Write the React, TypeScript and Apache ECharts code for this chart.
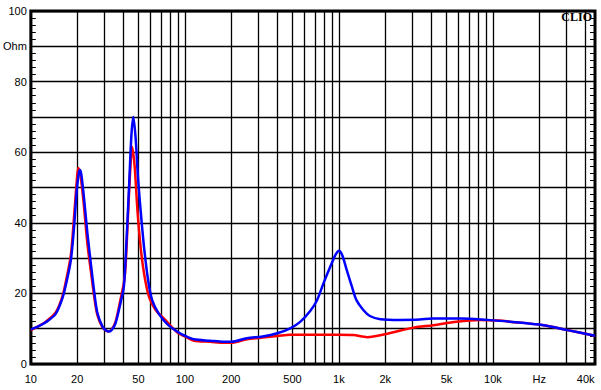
import React, { useEffect, useRef } from "react";
import * as echarts from "echarts";

const xTickValues = [
  10, 20, 30, 40, 50, 60, 70, 80, 90,
  100, 200, 300, 400, 500, 600, 700, 800, 900,
  1000, 2000, 3000, 4000, 5000, 6000, 7000, 8000, 9000,
  10000, 20000, 30000, 40000,
];
const xLabelValues = [10, 20, 50, 100, 200, 500, 1000, 2000, 5000, 10000, 20000, 40000];

const blueFreq = [
  10, 11, 12.5, 14.5, 16, 17, 18.2, 19.1, 19.8, 20.4, 20.8, 21.3, 22.2, 23.3, 24.5, 25.7, 27, 29.2, 31, 32.2,
  33.5, 35.5, 38.3, 40.2, 41.8, 43.5, 45, 46.3, 47.9, 49.6, 51.6, 54.3, 57.7, 61.4, 67.8, 76.8, 89, 100,
  114.5, 146, 179, 200, 253, 320, 398, 483, 563, 651, 720, 795, 880, 950, 1000, 1050, 1125, 1215, 1300,
  1440, 1590, 1860, 2500, 3350, 4000, 6250, 9150, 12900, 21400, 30500, 46000,
];
const blueOhm = [
  9.8, 10.5, 11.8, 14.2, 18.5, 23, 29.5, 39, 48.5, 53.5, 55, 53.5, 46.5, 37, 28.6, 21, 14.6, 10.6, 9.4, 9.2,
  9.6, 11.6, 17.5, 22, 35, 51, 65, 70, 64, 53, 43.6, 33.2, 23.8, 18, 14.2, 11.3, 9.2, 8,
  7, 6.6, 6.3, 6.3, 7.3, 7.8, 8.7, 10.1, 12.0, 15, 18, 22.9, 27.6, 30.9, 32.1, 30.9, 26.6, 21.9, 18.1,
  15.3, 13.6, 12.7, 12.5, 12.6, 12.9, 12.9, 12.5, 12.0, 11, 9.6, 8.0,
];

const redFreq = [
  10, 11, 12.5, 14.5, 16, 17, 18.2, 19.1, 19.8, 20.3, 20.8, 21.5, 22.2, 23.3, 24.5, 25.7, 27, 29.2, 31, 32.2,
  33.5, 35.5, 38.3, 40.2, 41.2, 42.7, 44.2, 45.5, 47.2, 49.2, 51.6, 54.3, 58.5, 64.6, 74.6, 89, 100,
  114.5, 146, 179, 200, 253, 320, 398, 483, 700, 1000, 1240, 1530, 2030, 3050, 4100, 5800, 8230, 11000,
  12900, 21400, 30500, 46000,
];
const redOhm = [
  9.6, 10.5, 12, 14.6, 19, 24, 31, 42, 51, 55.5, 54.5, 50, 44, 34, 26.5, 19.5, 14, 10.4, 9.4, 9.3,
  9.8, 12, 18.5, 23, 27.6, 41.7, 55, 61.5, 56, 43.6, 33.2, 25.7, 19, 15.3, 12.5, 9, 7.8,
  6.6, 6.3, 6, 6.0, 7.0, 7.5, 7.9, 8.3, 8.3, 8.3, 8.2, 7.6, 8.5, 10.3, 11, 12, 12.5, 12.3,
  12.0, 11, 9.6, 8.0,
];

const pairs = (f: number[], v: number[]) => f.map((x, i) => [x, v[i]]);

export default function App() {
  const ref = useRef<HTMLDivElement>(null);
  useEffect(() => {
    if (!ref.current) return;
    const chart = echarts.init(ref.current, undefined, { renderer: "svg" });
    const yCommon = {
      type: "value",
      min: 0,
      max: 100,
      interval: 10,
      axisLine: { show: false },
      axisTick: { show: true, inside: true, length: 5, lineStyle: { color: "#000", width: 1 } },
      minorTick: { show: true, splitNumber: 5, length: 5, lineStyle: { color: "#000", width: 1 } },
    };
    chart.setOption({
      animation: false,
      backgroundColor: "#ffffff",
      grid: {
        left: 30,
        right: 6,
        top: 11,
        bottom: 26,
        show: true,
        borderColor: "#000",
        borderWidth: 3,
        backgroundColor: "#ffffff",
      },
      xAxis: {
        type: "log",
        logBase: 10,
        min: 10,
        max: 46000,
        axisLine: { show: false },
        axisTick: { show: false, customValues: xTickValues },
        splitLine: { show: true, lineStyle: { color: "#000", width: 1.3 } },
        axisLabel: {
          customValues: xLabelValues,
          color: "#000",
          fontSize: 11,
          fontFamily: "Liberation Sans",
          margin: 9,
          hideOverlap: false,
          formatter: (v: number) => {
            const r = Math.round(v);
            if (r === 20000) return "Hz";
            if (r >= 1000) return r / 1000 + "k";
            return String(r);
          },
        },
      },
      yAxis: [
        {
          ...yCommon,
          position: "left",
          splitLine: { show: true, lineStyle: { color: "#000", width: 1.3 } },
          axisLabel: {
            color: "#000",
            fontSize: 11,
            fontFamily: "Liberation Sans",
            margin: 4,
            formatter: (v: number) => (v === 90 ? "Ohm" : v % 20 === 0 ? String(v) : ""),
          },
        },
        {
          ...yCommon,
          position: "right",
          splitLine: { show: false },
          axisLabel: { show: false },
        },
      ],
      graphic: [
        {
          type: "text",
          right: 9,
          top: 11,
          style: {
            text: "CLIO",
            fill: "#000",
            font: "bold 12px 'Liberation Serif'",
          },
          z: 100,
        },
      ],
      series: [
        {
          type: "line",
          data: pairs(redFreq, redOhm),
          showSymbol: false,
          smooth: 0.3,
          lineStyle: { color: "#ff0000", width: 2.5 },
          itemStyle: { color: "#ff0000" },
          z: 3,
        },
        {
          type: "line",
          data: pairs(blueFreq, blueOhm),
          showSymbol: false,
          smooth: 0.3,
          lineStyle: { color: "#0000ff", width: 2.5 },
          itemStyle: { color: "#0000ff" },
          z: 4,
        },
      ],
    });
    return () => chart.dispose();
  }, []);
  return (
    <div
      ref={ref}
      style={{ position: "fixed", left: 0, top: 0, width: 601, height: 390, background: "#fff" }}
    />
  );
}
